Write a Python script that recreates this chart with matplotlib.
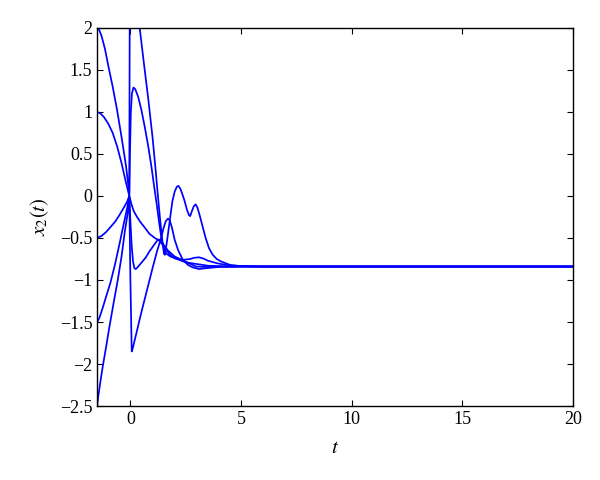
import matplotlib
matplotlib.use("Agg")
import matplotlib.pyplot as plt

# solution curves (t, x2)
t1 = [-1.5, -1.4, -1.3, -1.15, -1.0, -0.8, -0.6, -0.4, -0.2, -0.05,
      -0.03, 0.0, 0.15, 0.3, 0.42, 0.6, 0.8, 1.0, 1.15, 1.25, 1.35, 1.45, 1.52, 1.56,
      1.62, 1.7, 1.8, 1.9, 2.0, 2.1, 2.17, 2.25, 2.35, 2.45, 2.55, 2.65, 2.7, 2.78,
      2.87, 2.95, 3.03, 3.12, 3.25, 3.4, 3.55, 3.72, 3.9, 4.1, 4.5, 5.0, 6.0, 20.0]
x1 = [2.0, 1.97, 1.9, 1.75, 1.55, 1.3, 1.02, 0.7, 0.36, 0.03,
      2.2, 2.8, 3.1, 2.6, 2.0, 1.6, 1.17, 0.7, 0.28, -0.02, -0.3, -0.55, -0.69, -0.70,
      -0.6, -0.45, -0.25, -0.06, 0.05, 0.11, 0.12, 0.09, 0.02, -0.06, -0.16, -0.23, -0.24, -0.18,
      -0.12, -0.10, -0.14, -0.22, -0.35, -0.50, -0.62, -0.70, -0.75, -0.78, -0.82, -0.835, -0.84, -0.84]

t2 = [-1.5, -1.35, -1.2, -1.0, -0.8, -0.6, -0.4, -0.2, -0.05,
      -0.02, 0.02, 0.07, 0.14, 0.22, 0.35, 0.5, 0.65, 0.8, 0.95, 1.08, 1.2, 1.3, 1.4,
      1.5, 1.6, 1.8, 2.1, 2.4, 2.7, 2.9, 3.1, 3.3, 3.5, 3.9, 4.5, 6.0, 20.0]
x2 = [1.0, 0.98, 0.94, 0.86, 0.75, 0.59, 0.39, 0.16, 0.0,
      0.5, 1.0, 1.22, 1.29, 1.27, 1.18, 1.02, 0.82, 0.6, 0.35, 0.1, -0.12, -0.32, -0.5,
      -0.62, -0.68, -0.72, -0.75, -0.76, -0.75, -0.735, -0.73, -0.745, -0.77, -0.80, -0.83, -0.84, -0.84]

t3 = [-1.5, -1.3, -1.1, -0.9, -0.7, -0.5, -0.3, -0.15, -0.05,
      0.05, 0.15, 0.3, 0.45, 0.63, 0.86, 1.1, 1.3, 1.45, 1.6, 1.8, 2.0, 2.5, 3.0, 3.5,
      4.5, 6.0, 20.0]
x3 = [-0.5, -0.475, -0.43, -0.37, -0.31, -0.23, -0.14, -0.07, 0.0,
      -0.1, -0.18, -0.25, -0.31, -0.37, -0.45, -0.5, -0.53, -0.58, -0.64, -0.7, -0.74, -0.79, -0.81, -0.83,
      -0.84, -0.84, -0.84]

t4 = [-1.5, -1.4, -1.25, -1.1, -0.9, -0.7, -0.5, -0.3, -0.15, -0.05,
      0.0, 0.06, 0.12, 0.18, 0.24, 0.32, 0.48, 0.7, 0.86, 1.05, 1.24, 1.35, 1.5, 1.7,
      2.0, 2.4, 2.97, 3.4, 4.0, 6.0, 20.0]
x4 = [-1.5, -1.45, -1.33, -1.2, -1.03, -0.82, -0.58, -0.33, -0.15, 0.0,
      -0.3, -0.6, -0.78, -0.86, -0.87, -0.85, -0.80, -0.73, -0.66, -0.59, -0.52, -0.52, -0.58, -0.65,
      -0.72, -0.77, -0.84, -0.845, -0.84, -0.84, -0.84]

t5 = [-1.5, -1.45, -1.35, -1.25, -1.1, -0.95, -0.75, -0.57, -0.4, -0.25, -0.12, -0.05,
      0.0, 0.06, 0.1, 0.3, 0.5, 0.75, 1.0, 1.2, 1.39, 1.5, 1.6, 1.7, 1.78, 1.88,
      2.0, 2.15, 2.37, 2.6, 2.82, 3.1, 3.4, 4.0, 5.0, 6.0, 20.0]
x5 = [-2.5, -2.38, -2.2, -2.03, -1.8, -1.56, -1.26, -1.0, -0.72, -0.42, -0.2, 0.0,
      -1.0, -1.85, -1.82, -1.6, -1.38, -1.12, -0.86, -0.66, -0.5, -0.38, -0.3, -0.27, -0.29, -0.38,
      -0.52, -0.64, -0.76, -0.82, -0.85, -0.87, -0.86, -0.845, -0.84, -0.84, -0.84]

curves = [(t1, x1), (t2, x2), (t3, x3), (t4, x4), (t5, x5)]

plt.rcParams['font.family'] = ['Liberation Serif', 'DejaVu Serif']
plt.rcParams['mathtext.fontset'] = 'stix'

fig = plt.figure(figsize=(6, 4.8), dpi=100)
ax = fig.add_axes([0.162, 0.154, 0.793, 0.788])

for t, x in curves:
    ax.plot(t, x, color='#0000ff', lw=1.25)

ax.set_xlim(-1.5, 20)
ax.set_ylim(-2.5, 2)
ax.set_xticks([0, 5, 10, 15, 20])
ax.set_yticks([-2.5, -2, -1.5, -1, -0.5, 0, 0.5, 1, 1.5, 2])
ax.set_yticklabels(['\u22122.5', '\u22122', '\u22121.5', '\u22121', '\u22120.5',
                    '0', '0.5', '1', '1.5', '2'])
ax.tick_params(direction='in', top=True, right=True, length=4, labelsize=13)
for s in ax.spines.values():
    s.set_linewidth(1.0)

ax.set_xlabel('$t$', fontsize=15, labelpad=8)
ax.set_ylabel('$x_2(t)$', fontsize=15, labelpad=6)

fig.savefig('out.png', dpi=100)
